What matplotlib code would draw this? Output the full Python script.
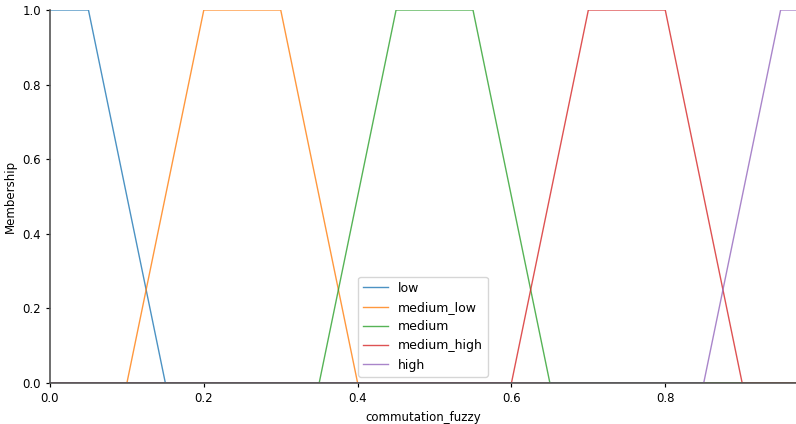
import numpy as np
import matplotlib
matplotlib.use("Agg")
import matplotlib.pyplot as plt

# universe of discourse and trapezoid breakpoints (a, b, c, d)
universe = np.round(np.arange(0, 0.98, 0.01), 2)
labels = ["low", "medium_low", "medium", "medium_high", "high"]
trap_points = [
    [0.0, 0.0, 0.05, 0.15],
    [0.1, 0.2, 0.3, 0.4],
    [0.35, 0.45, 0.55, 0.65],
    [0.6, 0.7, 0.8, 0.9],
    [0.85, 0.95, 0.97, 0.97],
]


def trapmf(x, abcd):
    a, b, c, d = abcd
    y = np.zeros_like(x)
    up = (x >= a) & (x < b)
    if b > a:
        y[up] = (x[up] - a) / (b - a)
    y[(x >= b) & (x <= c)] = 1.0
    down = (x > c) & (x <= d)
    if d > c:
        y[down] = (d - x[down]) / (d - c)
    return y


plt.rcParams["font.size"] = 8.5
plt.rcParams["axes.linewidth"] = 1.2
plt.rcParams["xtick.major.width"] = 0.85
plt.rcParams["ytick.major.width"] = 0.85
plt.rcParams["xtick.major.size"] = 3
plt.rcParams["ytick.major.size"] = 3

fig = plt.figure(figsize=(7.96, 4.24), dpi=100)
ax = fig.add_axes([50 / 796, 41 / 424, 746 / 796, 373 / 424])

for name, pts in zip(labels, trap_points):
    ax.plot(universe, trapmf(universe, pts), linewidth=1.0, alpha=0.8, label=name)

ax.set_xlim(universe.min(), universe.max())
ax.set_ylim(0, 1.0)
ax.set_xlabel("commutation_fuzzy")
ax.set_ylabel("Membership")
ax.spines["top"].set_visible(False)
ax.spines["right"].set_visible(False)
for s in ax.spines.values():
    s.set_zorder(5)
    s.set_color("#555555")
ax.legend(loc="lower center", fontsize=9)

fig.savefig("out.png", dpi=100)
